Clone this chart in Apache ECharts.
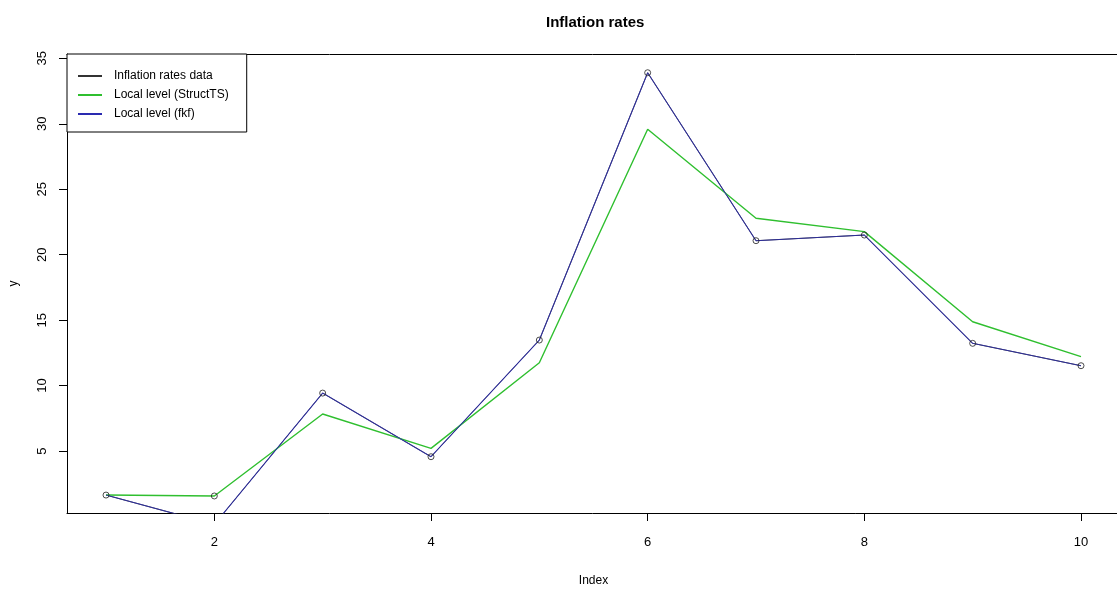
<!DOCTYPE html>
<html>
<head>
<meta charset="utf-8">
<script src="https://cdn.jsdelivr.net/npm/echarts@6/dist/echarts.min.js"></script>
<style>html,body{margin:0;padding:0;background:#fff;}#c{width:1117px;height:590px;}</style>
</head>
<body>
<div id="c"></div>
<script>
const xIndex = [1, 2, 3, 4, 5, 6, 7, 8, 9, 10];
const inflationData = [1.64, -0.6, 9.43, 4.57, 13.48, 33.9, 21.07, 21.5, 13.23, 11.52];
const observedPoints = [1.64, 1.57, 9.43, 4.57, 13.48, 33.9, 21.07, 21.5, 13.23, 11.52];
const localLevelStructTS = [1.64, 1.57, 7.83, 5.21, 11.75, 29.58, 22.78, 21.76, 14.88, 12.21];
const localLevelFkf = [1.64, -0.6, 9.43, 4.57, 13.48, 33.9, 21.07, 21.5, 13.23, 11.52];
const xTicks = [2, 4, 6, 8, 10];
const yTicks = [5, 10, 15, 20, 25, 30, 35];

const pair = arr => xIndex.map((x, i) => [x, arr[i]]);
const FONT = '"Liberation Sans", Arial, sans-serif';

const chart = echarts.init(document.getElementById('c'), null, {renderer: 'canvas'});
chart.setOption({
  animation: false,
  backgroundColor: '#fff',
  title: {
    text: 'Inflation rates',
    left: 541, top: 10,
    textStyle: {fontFamily: FONT, fontSize: 15, fontWeight: 'bold', color: '#000'}
  },
  grid: {
    left: 67, top: 54, width: 1053, height: 459,
    outerBoundsMode: 'none', containLabel: false, show: false
  },
  legend: {
    left: 67, top: 54, orient: 'vertical',
    data: ['Inflation rates data', 'Local level (StructTS)', 'Local level (fkf)'],
    icon: 'rect',
    backgroundColor: '#fff', borderColor: '#000', borderWidth: 1,
    padding: [15, 18, 11, 11],
    itemWidth: 24, itemHeight: 2, itemGap: 5,
    textStyle: {fontFamily: FONT, fontSize: 12, color: '#000', padding: [0, 0, 0, 7], lineHeight: 14}
  },
  xAxis: [{
    type: 'value', min: 0.64, max: 10.36, position: 'bottom',
    name: 'Index', nameLocation: 'middle', nameGap: 62,
    nameTextStyle: {fontFamily: FONT, fontSize: 12, color: '#000'},
    axisLine: {show: true, onZero: false, lineStyle: {color: '#000', width: 1}},
    axisTick: {show: true, length: 8, customValues: xTicks, lineStyle: {color: '#000'}},
    axisLabel: {customValues: xTicks, margin: 23, fontFamily: FONT, fontSize: 13, color: '#000'},
    splitLine: {show: false}
  }, {
    type: 'value', min: 0.64, max: 10.36, position: 'top',
    axisLine: {show: true, onZero: false, lineStyle: {color: '#000', width: 1}},
    axisTick: {show: false}, axisLabel: {show: false}, splitLine: {show: false}
  }],
  yAxis: {
    type: 'value', min: 0.27, max: 35.33,
    name: 'y', nameLocation: 'middle', nameGap: 47,
    nameTextStyle: {fontFamily: FONT, fontSize: 12, color: '#000'},
    axisLine: {show: true, onZero: false, lineStyle: {color: '#000', width: 1}},
    axisTick: {show: true, length: 8, customValues: yTicks, lineStyle: {color: '#000'}},
    axisLabel: {customValues: yTicks, rotate: 90, margin: 18, fontFamily: FONT, fontSize: 13, color: '#000'},
    splitLine: {show: false}
  },
  series: [
    {
      name: 'Inflation rates data', type: 'line', data: pair(inflationData),
      symbol: 'none', clip: true, z: 2,
      lineStyle: {color: '#333', width: 1}, itemStyle: {color: '#333'}
    },
    {
      name: 'Local level (StructTS)', type: 'line', data: pair(localLevelStructTS),
      symbol: 'none', clip: true, z: 3,
      lineStyle: {color: '#2fbf2f', width: 1.4}, itemStyle: {color: '#2fbf2f'}
    },
    {
      name: 'Local level (fkf)', type: 'line', data: pair(localLevelFkf),
      symbol: 'none', clip: true, z: 4,
      lineStyle: {color: '#2a2ab0', width: 1.1, opacity: 0.8}, itemStyle: {color: '#2a2ab0'}
    },
    {
      name: 'points', type: 'scatter', data: pair(observedPoints),
      symbol: 'circle', symbolSize: 6, clip: true, z: 5,
      itemStyle: {color: 'rgba(255,255,255,0)', borderColor: '#222', borderWidth: 1}
    }
  ]
});
</script>
</body>
</html>
